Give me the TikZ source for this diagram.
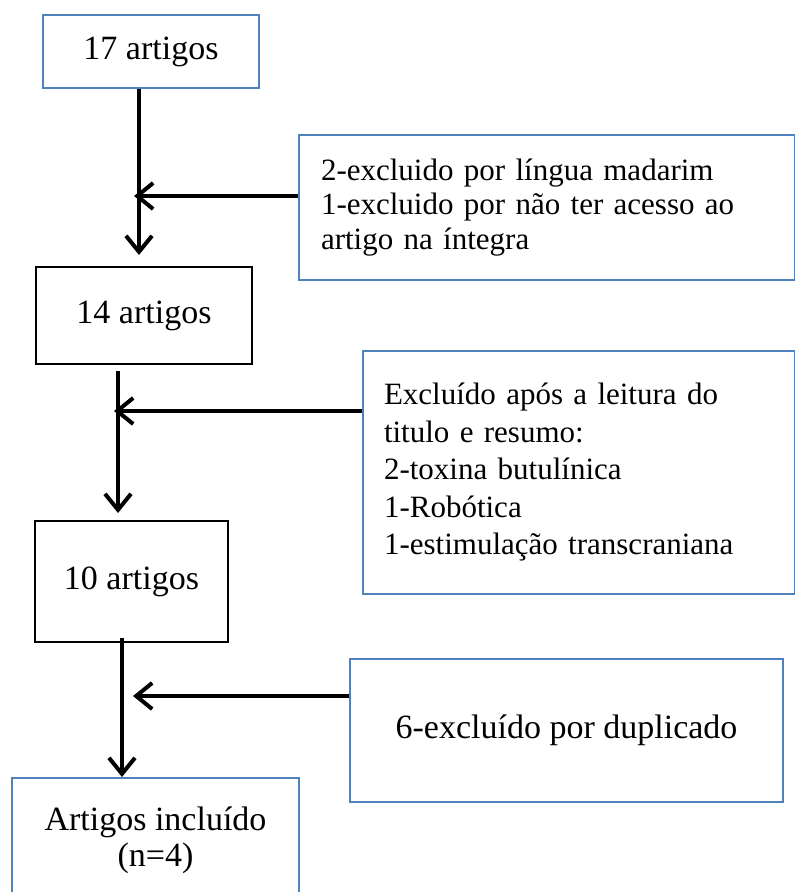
\documentclass[tikz,border=0pt]{standalone}
\usepackage{fontspec}
\setmainfont{Liberation Serif}
\usetikzlibrary{arrows.meta,calc}
\definecolor{boxblue}{HTML}{4F81BD}
\begin{document}
\begin{tikzpicture}[x=1pt,y=-1pt,
  box/.style={draw, line width=2pt, rectangle, anchor=north west, inner sep=0pt, fill=white},
  bluebox/.style={box, draw=boxblue},
  blackbox/.style={box, draw=black},
  big/.style={font=\fontsize{34}{36}\selectfont},
  arr/.style={line width=4pt, -{Straight Barb[length=16pt,width=26pt]}}
]
\useasboundingbox (0,0) rectangle (795,892);
\clip (0,0) rectangle (795,892);
\fill[white] (0,0) rectangle (795,892);

% boxes
\node[bluebox, minimum width=216pt, minimum height=73pt, big] (b1) at (42,14) {17 artigos};
\node[blackbox, minimum width=216pt, minimum height=97pt, big] (b2) at (35,266) {14 artigos};
\node[blackbox, minimum width=193pt, minimum height=121pt, big] (b3) at (34,520) {10 artigos};
\node[bluebox, minimum width=287pt, minimum height=124pt, big, align=center] (b4) at (11,777) {Artigos incluído\\(n=4)};

\node[bluebox, minimum width=496pt, minimum height=145pt, inner xsep=22pt, text width=452pt, align=left,
  font=\fontsize{31}{34.5}\selectfont] (e1) at (298,134)
  {2-excluido por língua madarim\\1-excluido por não ter acesso ao\\artigo na íntegra};
\node[bluebox, minimum width=432pt, minimum height=243pt, inner xsep=21pt, text width=390pt, align=left,
  font=\fontsize{31}{37.5}\selectfont] (e2) at (362,350)
  {Excluído após a leitura do\\titulo e resumo:\\2-toxina butulínica\\1-Robótica\\1-estimulação transcraniana};
\node[bluebox, minimum width=433pt, minimum height=143pt, big] (e3) at (349,658) {6-excluído por duplicado};

% junction coordinates
\coordinate (v1) at (139,0);
\coordinate (v2) at (118,0);
\coordinate (v3) at (122,0);
\coordinate (h1) at (134,196);
\coordinate (h2) at (114,411);
\coordinate (h3) at (133,696);

% connectors
\draw[arr, shorten >=11pt] (b1.south -| v1) -- (b2.north -| v1);
\draw[arr] (e1.west |- h1) -- (h1);
\draw[arr, shorten <=6pt, shorten >=7pt] (b2.south -| v2) -- (b3.north -| v2);
\draw[arr] (e2.west |- h2) -- (h2);
\draw[arr] ([yshift=5pt]b3.south -| v3) -- (b4.north -| v3);
\draw[arr] (e3.west |- h3) -- (h3);
\end{tikzpicture}
\end{document}
